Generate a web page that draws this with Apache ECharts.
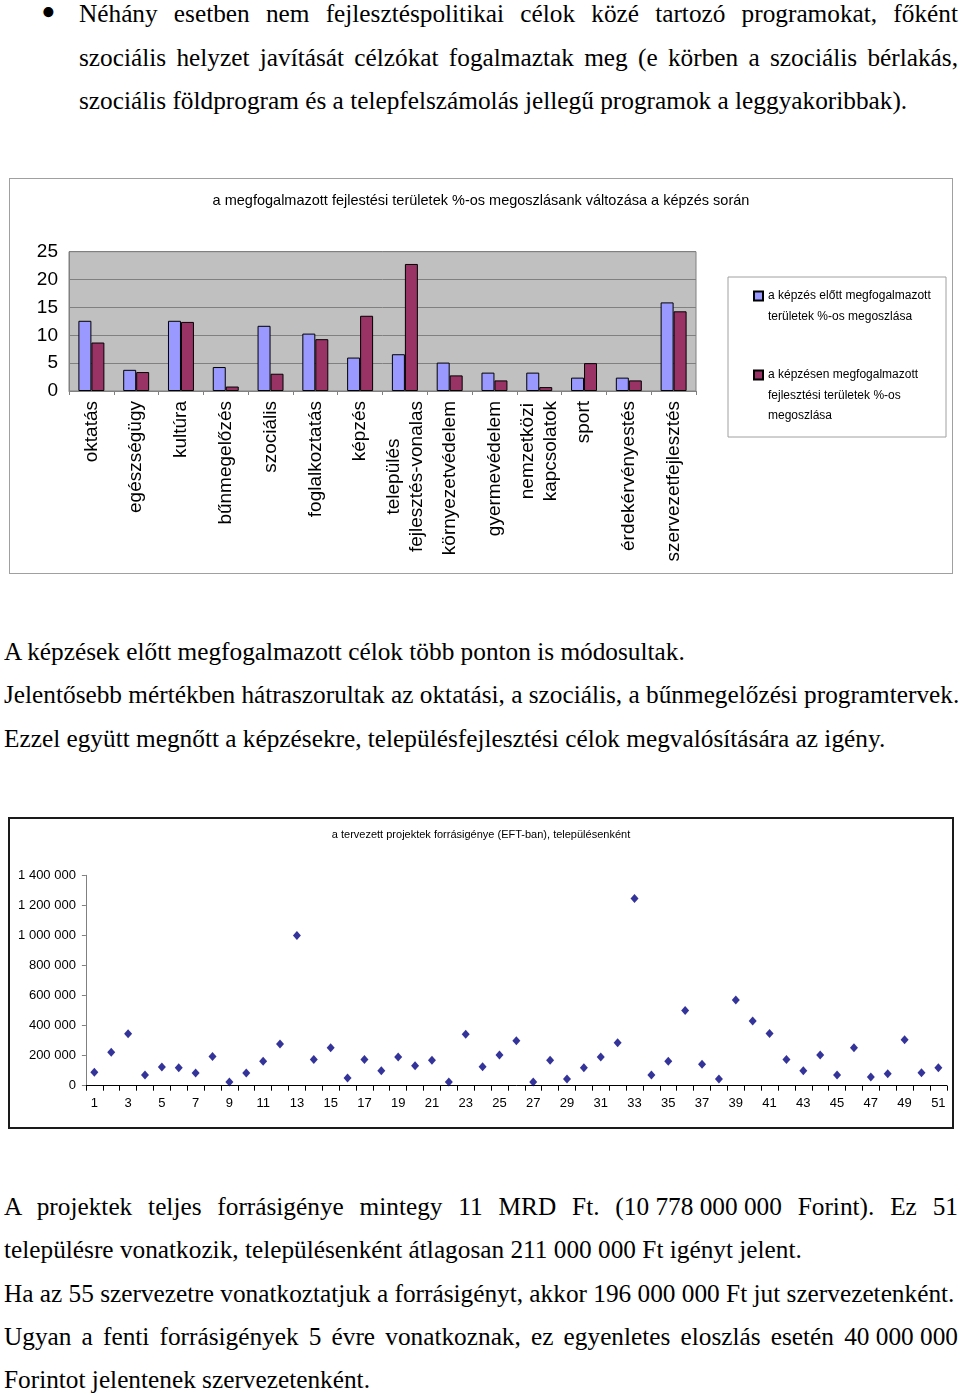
<!DOCTYPE html>
<html><head><meta charset="utf-8">
<script src="https://cdn.jsdelivr.net/npm/echarts@6/dist/echarts.min.js"></script>
<style>
html,body{margin:0;padding:0;background:#fff;}
body{width:960px;height:1397px;position:relative;overflow:hidden;font-family:'Liberation Serif','Times New Roman',serif;color:#000;}
.ln{position:absolute;font-size:25.3px;line-height:26px;white-space:nowrap;}
.j{text-align:justify;text-align-last:justify;}
.nb{display:inline-block;text-align:left;text-align-last:auto;white-space:nowrap;}
.bul{position:absolute;font-size:42px;line-height:40px;}
.frame{position:absolute;box-sizing:border-box;}
.chart{position:absolute;}
</style></head>
<body>
<div class="bul" style="left:41px;top:-8px;">•</div>
<div class="ln j" style="left:79px;top:0.16px;width:879px;">Néhány esetben nem fejlesztéspolitikai célok közé tartozó programokat, főként</div>
<div class="ln j" style="left:79px;top:43.76px;width:879px;">szociális helyzet javítását célzókat fogalmaztak meg (e körben a szociális bérlakás,</div>
<div class="ln" style="left:79px;top:87.36px;">szociális földprogram és a telepfelszámolás jellegű programok a leggyakoribbak).</div>

<div class="frame" style="left:9px;top:178px;width:944px;height:396px;border:1px solid #a0a0a0;"></div>
<div id="c1" class="chart" style="left:9px;top:178px;width:944px;height:396px;"></div>

<div class="ln" style="left:4px;top:637.96px;">A képzések előtt megfogalmazott célok több ponton is módosultak.</div>
<div class="ln" style="left:4px;top:681.46px;">Jelentősebb mértékben hátraszorultak az oktatási, a szociális, a bűnmegelőzési programtervek.</div>
<div class="ln" style="left:4px;top:724.96px;">Ezzel együtt megnőtt a képzésekre, településfejlesztési célok megvalósítására az igény.</div>

<div class="frame" style="left:8px;top:817px;width:946px;height:312px;border:2px solid #1a1a1a;"></div>
<div id="c2" class="chart" style="left:8px;top:817px;width:946px;height:312px;"></div>

<div class="ln j" style="left:4px;top:1193.46px;width:954px;">A projektek teljes forrásigénye mintegy 11 MRD Ft. (<span class="nb">10 778 000 000</span> Forint). Ez 51</div>
<div class="ln" style="left:4px;top:1236.46px;">településre vonatkozik, településenként átlagosan 211 000 000 Ft igényt jelent.</div>
<div class="ln" style="left:4px;top:1279.96px;">Ha az 55 szervezetre vonatkoztatjuk a forrásigényt, akkor 196 000 000 Ft jut szervezetenként.</div>
<div class="ln j" style="left:4px;top:1323.26px;width:954px;">Ugyan a fenti forrásigények 5 évre vonatkoznak, ez egyenletes eloszlás esetén <span class="nb">40 000 000</span></div>
<div class="ln" style="left:4px;top:1366.46px;">Forintot jelentenek szervezetenként.</div>

<script>
// ---- Chart 1 data ----
const chart1Title = 'a megfogalmazott fejlestési területek %-os megoszlásank változása a képzés során';
const categories = ['oktatás','egészségügy','kultúra','bűnmegelőzés','szociális','foglalkoztatás','képzés','település\nfejlesztés-vonalas','környezetvédelem','gyermevédelem','nemzetközi\nkapcsolatok','sport','érdekérvényestés','szervezetfejlesztés'];
const seriesBeforeName = 'a képzés előtt megfogalmazott területek %-os megoszlása';
const seriesAfterName = 'a képzésen megfogalmazott fejlesztési területek %-os megoszlása';
const legendBeforeText = 'a képzés előtt megfogalmazott\nterületek %-os megoszlása';
const legendAfterText = 'a képzésen megfogalmazott\nfejlesztési területek %-os\nmegoszlása';
const beforeValues = [12.6, 3.8, 12.6, 4.3, 11.7, 10.3, 6.0, 6.6, 5.1, 3.3, 3.3, 2.4, 2.4, 15.9];
const afterValues  = [8.7, 3.4, 12.4, 0.8, 3.1, 9.3, 13.5, 22.8, 2.8, 1.9, 0.7, 5.0, 1.9, 14.3];
const yTicks1 = {min: 0, max: 25, interval: 5};

// ---- Chart 2 data ----
const chart2Title = 'a tervezett projektek forrásigénye (EFT-ban), településenként';
const settlementLabels = ['1','2','3','4','5','6','7','8','9','10','11','12','13','14','15','16','17','18','19','20','21','22','23','24','25','26','27','28','29','30','31','32','33','34','35','36','37','38','39','40','41','42','43','44','45','46','47','48','49','50','51'];
const demandValues = [90000, 222000, 346000, 71000, 124000, 120000, 84000, 195000, 24000, 84000,
  162000, 277000, 1000000, 175000, 253000, 51000, 175000, 100000, 191000, 133000,
  169000, 24000, 342000, 126000, 204000, 299000, 24000, 169000, 44000, 120000,
  191000, 286000, 1246000, 71000, 162000, 501000, 142000, 44000, 570000, 430000,
  348000, 175000, 100000, 204000, 71000, 253000, 58000, 80000, 306000, 87000, 120000];
const yTicks2 = {min: 0, max: 1400000, interval: 200000};

const SANS = "'Liberation Sans', Arial, Helvetica, sans-serif";

const c1 = echarts.init(document.getElementById('c1'));
c1.setOption({
  animation: false,
  title: {text: chart1Title, left: 'center', top: 15, padding: 0,
    textStyle: {fontFamily: SANS, fontSize: 14.5, fontWeight: 'normal', color: '#000'}},
  grid: {left: 60, top: 73.7, width: 627, height: 139.3, show: true,
    backgroundColor: '#c0c0c0', borderColor: '#808080', borderWidth: 1},
  graphic: [{type: 'rect', shape: {x: 719, y: 99, width: 218, height: 160},
    style: {fill: 'none', stroke: '#a0a0a0', lineWidth: 1}}],
  legend: [
    {data: [seriesBeforeName], left: 744, top: 87.25, orient: 'vertical', padding: 0,
      itemWidth: 9, itemHeight: 9, icon: 'rect', selectedMode: false,
      formatter: () => '\n' + legendBeforeText,
      textStyle: {fontFamily: SANS, fontSize: 12, lineHeight: 20.5, color: '#000'}},
    {data: [seriesAfterName], left: 744, top: 145.75, orient: 'vertical', padding: 0,
      itemWidth: 9, itemHeight: 9, icon: 'rect', selectedMode: false,
      formatter: () => '\n\n' + legendAfterText,
      textStyle: {fontFamily: SANS, fontSize: 12, lineHeight: 20.5, color: '#000'}}
  ],
  xAxis: {type: 'category', data: categories,
    axisLine: {lineStyle: {color: '#808080'}},
    axisTick: {show: true, length: 4, lineStyle: {color: '#808080'}},
    axisLabel: {rotate: 90, margin: 10, interval: 0, color: '#000', fontFamily: SANS, fontSize: 19,
      formatter: v => v.split('\n').map(s => '{c|' + s + '}').join('\n'),
      rich: {c: {align: 'center', fontFamily: SANS, fontSize: 19, color: '#000', lineHeight: 23}}}},
  yAxis: {type: 'value', min: yTicks1.min, max: yTicks1.max, interval: yTicks1.interval,
    axisLine: {show: true, lineStyle: {color: '#808080'}},
    axisTick: {show: false},
    splitLine: {lineStyle: {color: '#808080'}},
    axisLabel: {margin: 11, color: '#000', fontFamily: SANS, fontSize: 19}},
  series: [
    {type: 'bar', name: seriesBeforeName, data: beforeValues, barGap: '0%', barCategoryGap: '42%',
      itemStyle: {color: '#9999ff', borderColor: '#000', borderWidth: 1}},
    {type: 'bar', name: seriesAfterName, data: afterValues, barGap: '0%', barCategoryGap: '42%',
      itemStyle: {color: '#993366', borderColor: '#000', borderWidth: 1}}
  ]
});

const c2 = echarts.init(document.getElementById('c2'));
c2.setOption({
  animation: false,
  title: {text: chart2Title, left: 'center', top: 12, padding: 0,
    textStyle: {fontFamily: SANS, fontSize: 11, fontWeight: 'normal', color: '#000'}},
  grid: {left: 77.9, top: 58.3, width: 860.9, height: 210.4},
  xAxis: {type: 'category', data: settlementLabels, boundaryGap: true,
    axisLine: {lineStyle: {color: '#000'}},
    axisTick: {show: true, interval: 0, length: 5, lineStyle: {color: '#000'}},
    axisLabel: {interval: 1, margin: 11, color: '#000', fontFamily: SANS, fontSize: 13}},
  yAxis: {type: 'value', min: yTicks2.min, max: yTicks2.max, interval: yTicks2.interval,
    axisLine: {show: true, lineStyle: {color: '#808080'}},
    axisTick: {show: true, length: 4, lineStyle: {color: '#808080'}},
    splitLine: {show: false},
    axisLabel: {margin: 10, color: '#000', fontFamily: SANS, fontSize: 13,
      formatter: v => String(v).replace(/\B(?=(\d{3})+(?!\d))/g, ' ')}},
  series: [{type: 'scatter', data: demandValues, symbol: 'diamond', symbolSize: [8, 9],
    itemStyle: {color: '#000080'}}]
});
</script>
</body></html>
